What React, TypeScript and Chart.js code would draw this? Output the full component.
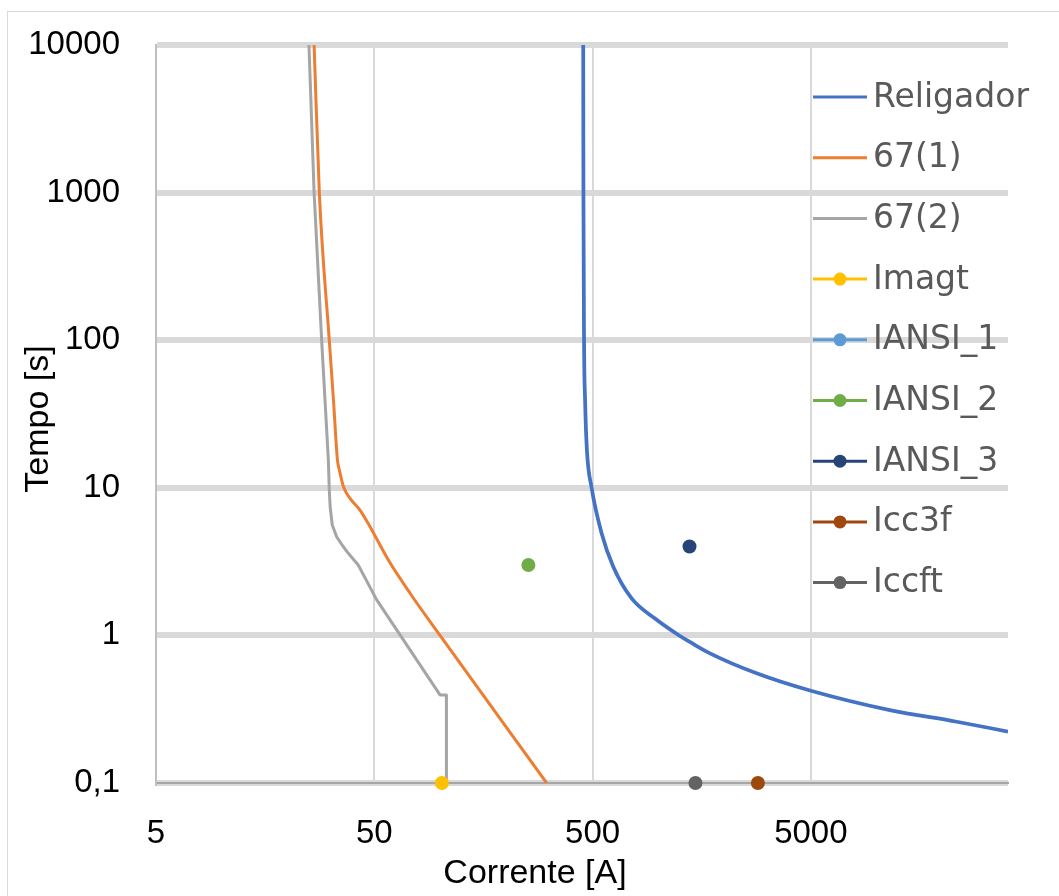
import React, { useEffect, useRef } from "react";
import { Chart, registerables } from "chart.js";

Chart.register(...registerables);

// ---- Data ----
const seriesNames = ["Religador", "67(1)", "67(2)", "Imagt", "IANSI_1", "IANSI_2", "IANSI_3", "Icc3f", "Iccft"];
const seriesColors = ["#4472C4", "#ED7D31", "#A5A5A5", "#FFC000", "#5B9BD5", "#70AD47", "#264478", "#9E480E", "#636363"];

// Religador curve: current [A] / time [s]
const religadorI = [453, 454, 457, 462, 471, 495, 550, 622, 755, 966, 1257, 1400, 1725, 2820, 5000, 11500, 23300, 40000];
const religadorT = [10000, 1000, 100, 39.3, 18, 10, 4.92, 2.92, 1.78, 1.3, 0.99, 0.9, 0.756, 0.554, 0.422, 0.312, 0.26, 0.223];

// 67(1)
const rele1I = [26.5, 28.0, 31.1, 32.5, 33.9, 34.6, 36.1, 38.7, 43.0, 47.8, 58.0, 72.9, 100, 308];
const rele1T = [10000, 1000, 100, 39.4, 15.4, 13.2, 10.2, 8.49, 7.07, 5.45, 3.24, 1.93, 1.0, 0.1];

// 67(2)
const rele2I = [25.1, 26.5, 28.7, 30.8, 31.1, 31.4, 32.1, 33.6, 35.8, 38.0, 42.2, 51.3, 100, 107, 107];
const rele2T = [10000, 1000, 100, 15.4, 9.66, 7.4, 5.6, 4.66, 4.05, 3.6, 3.0, 1.74, 0.395, 0.395, 0.1];

// Single points
const imagtI = [102];
const imagtT = [0.1];
const iansi1I: number[] = [];
const iansi1T: number[] = [];
const iansi2I = [254];
const iansi2T = [3.0];
const iansi3I = [1390];
const iansi3T = [4.0];
const icc3fI = [2860];
const icc3fT = [0.1];
const iccftI = [1480];
const iccftT = [0.1];

// Axes
const xTicks = [5, 50, 500, 5000];
const xTickLabels = ["5", "50", "500", "5000"];
const yTicks = [0.1, 1, 10, 100, 1000, 10000];
const yTickLabels = ["0,1", "1", "10", "100", "1000", "10000"];
const xTitle = "Corrente [A]";
const yTitle = "Tempo [s]";

const zip = (xs: number[], ys: number[]) => xs.map((x, i) => ({ x, y: ys[i] }));

const seriesData = [
  zip(religadorI, religadorT),
  zip(rele1I, rele1T),
  zip(rele2I, rele2T),
  zip(imagtI, imagtT),
  zip(iansi1I, iansi1T),
  zip(iansi2I, iansi2T),
  zip(iansi3I, iansi3T),
  zip(icc3fI, icc3fT),
  zip(iccftI, iccftT),
];
const isCurve = [true, true, true, false, false, false, false, false, false];
const curveWidths = [3.75, 3, 3];
const curveSmooth = [true, true, false];

const TICK_FONT = "'Liberation Sans', Arial, sans-serif";
const LEGEND_FONT = "'DejaVu Sans', sans-serif";

const decorPlugin = {
  id: "decor",
  beforeDraw(chart: any) {
    const ctx = chart.ctx;
    ctx.save();
    ctx.fillStyle = "#ffffff";
    ctx.fillRect(0, 0, chart.width, chart.height);
    ctx.strokeStyle = "#d9d9d9";
    ctx.lineWidth = 1;
    ctx.strokeRect(7.5, 11.5, chart.width + 20, chart.height + 20);
    ctx.restore();
  },
  afterDraw(chart: any) {
    const ctx = chart.ctx;
    ctx.save();
    // axis titles
    ctx.fillStyle = "#000000";
    ctx.font = `34px ${TICK_FONT}`;
    ctx.textAlign = "center";
    ctx.textBaseline = "middle";
    ctx.fillText(xTitle, 535, 874);
    ctx.save();
    ctx.translate(38.5, 419);
    ctx.rotate(-Math.PI / 2);
    ctx.fillText(yTitle, 0, 0);
    ctx.restore();

    // legend
    const x0 = 813;
    const x1 = 867;
    const y0 = 97;
    const step = 60.7;
    ctx.font = `33px ${LEGEND_FONT}`;
    ctx.textAlign = "left";
    seriesNames.forEach((name, i) => {
      const y = y0 + i * step;
      ctx.strokeStyle = seriesColors[i];
      ctx.lineWidth = 3;
      ctx.lineCap = "butt";
      ctx.beginPath();
      ctx.moveTo(x0, y);
      ctx.lineTo(x1, y);
      ctx.stroke();
      if (!isCurve[i]) {
        ctx.fillStyle = seriesColors[i];
        ctx.beginPath();
        ctx.arc((x0 + x1) / 2, y, 6.5, 0, Math.PI * 2);
        ctx.fill();
      }
      ctx.fillStyle = "#595959";
      ctx.fillText(name, 873, y + 1);
    });
    ctx.restore();
  },
};

export default function App() {
  const canvasRef = useRef<HTMLCanvasElement | null>(null);

  useEffect(() => {
    if (!canvasRef.current) return;
    const datasets = seriesNames.map((name, i) => ({
      label: name,
      data: seriesData[i],
      showLine: isCurve[i],
      borderColor: seriesColors[i],
      backgroundColor: seriesColors[i],
      borderWidth: isCurve[i] ? curveWidths[i] : 0,
      borderJoinStyle: "round" as const,
      pointRadius: isCurve[i] ? 0 : 7,
      pointHoverRadius: isCurve[i] ? 0 : 7,
      pointBorderWidth: 0,
      cubicInterpolationMode: isCurve[i] && curveSmooth[i] ? ("monotone" as const) : ("default" as const),
      tension: 0,
      order: -i,
      clip: isCurve[i] ? undefined : false,
    }));

    const chart = new Chart(canvasRef.current, {
      type: "scatter",
      data: { datasets: datasets as any },
      plugins: [decorPlugin],
      options: {
        animation: false,
        responsive: false,
        maintainAspectRatio: false,
        devicePixelRatio: 1,
        layout: { padding: { left: 0, top: 45, right: 51, bottom: 0 } },
        plugins: {
          legend: { display: false },
          tooltip: { enabled: false },
        },
        scales: {
          x: {
            type: "logarithmic",
            position: "bottom",
            min: 5,
            max: 40000,
            afterBuildTicks: (s: any) => {
              s.ticks = xTicks.map((v) => ({ value: v }));
            },
            afterFit: (s: any) => {
              s.height = 113;
              s.paddingLeft = 0;
              s.paddingRight = 0;
            },
            ticks: {
              callback: (_v: any, i: number) => xTickLabels[i],
              autoSkip: false,
              maxRotation: 0,
              minRotation: 0,
              padding: 31,
              color: "#000000",
              font: { family: TICK_FONT, size: 33 },
            },
            grid: { color: "#d9d9d9", lineWidth: 2, drawTicks: false },
            border: { color: "#a6a6a6", width: 2 },
          },
          y: {
            type: "logarithmic",
            position: "left",
            min: 0.1,
            max: 10000,
            afterBuildTicks: (s: any) => {
              s.ticks = yTicks.map((v) => ({ value: v }));
            },
            afterFit: (s: any) => {
              s.width = 156;
              s.paddingTop = 0;
              s.paddingBottom = 0;
            },
            ticks: {
              callback: (_v: any, i: number) => yTickLabels[i],
              autoSkip: false,
              padding: 36,
              color: "#000000",
              font: { family: TICK_FONT, size: 33 },
            },
            grid: { color: "#d9d9d9", lineWidth: 6, drawTicks: false },
            border: { color: "#bfbfbf", width: 2 },
          },
        },
      } as any,
    });
    return () => chart.destroy();
  }, []);

  return (
    <div style={{ position: "fixed", left: 0, top: 0, width: 1059, height: 896, background: "#fff" }}>
      <canvas ref={canvasRef} width={1059} height={896} style={{ display: "block" }} />
    </div>
  );
}
